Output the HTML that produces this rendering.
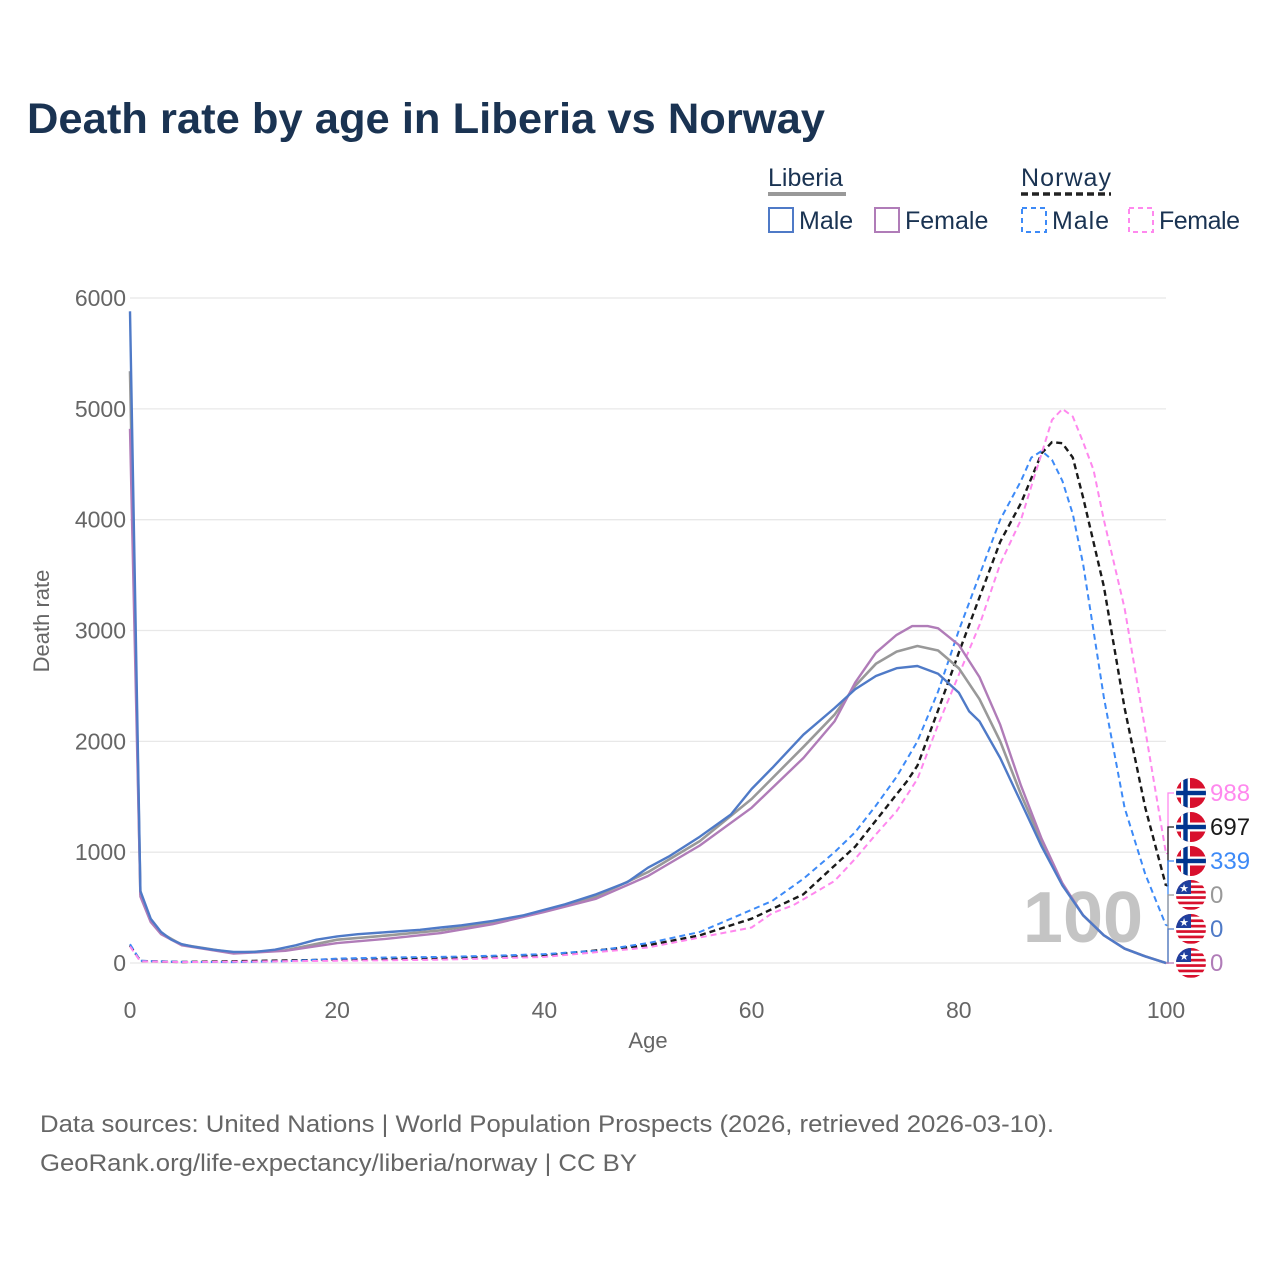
<!DOCTYPE html>
<html><head><meta charset="utf-8"><style>
body{margin:0;background:#fff;font-family:"Liberation Sans",sans-serif;}
svg text{font-family:"Liberation Sans",sans-serif;}
</style></head><body>
<svg id="chart" width="1280" height="1280" xmlns="http://www.w3.org/2000/svg">
<text x="27" y="133" font-size="43" font-weight="bold" fill="#1a3352" textLength="798" lengthAdjust="spacingAndGlyphs">Death rate by age in Liberia vs Norway</text>
<g font-size="25" fill="#1a3352">
<text x="768" y="186" fill="#1a3352">Liberia</text>
<line x1="768" y1="194" x2="846" y2="194" stroke="#999" stroke-width="4"/>
<text x="1021" y="186" fill="#1a3352" textLength="90">Norway</text>
<line x1="1021" y1="194" x2="1111" y2="194" stroke="#222" stroke-width="3.5" stroke-dasharray="7,4"/>
<g><rect x="769" y="208" width="24" height="24" fill="none" stroke="#4f7ac7" stroke-width="2"/><text x="799" y="229">Male</text></g>
<g><rect x="875" y="208" width="24" height="24" fill="none" stroke="#b07cb8" stroke-width="2"/><text x="905" y="229">Female</text></g>
<g><rect x="1022" y="208" width="24" height="24" fill="none" stroke="#3d8af7" stroke-width="2" stroke-dasharray="5,4"/><text x="1052" y="229" textLength="57">Male</text></g>
<g><rect x="1129" y="208" width="24" height="24" fill="none" stroke="#ff88ee" stroke-width="2" stroke-dasharray="5,4"/><text x="1159" y="229" textLength="81">Female</text></g>
</g>
<g id="grid"></g>
<text x="1083" y="942" font-size="72" font-weight="bold" fill="#c4c4c4" text-anchor="middle">100</text>
<g id="series"></g>
<g id="ends"></g>
<text x="648" y="1048" font-size="22" fill="#666" text-anchor="middle">Age</text>
<text x="0" y="0" font-size="22" fill="#666" text-anchor="middle" transform="translate(49,621) rotate(-90)">Death rate</text>
<text x="40" y="1132" font-size="24" fill="#666" textLength="1014" lengthAdjust="spacingAndGlyphs">Data sources: United Nations | World Population Prospects (2026, retrieved 2026-03-10).</text>
<text x="40" y="1171" font-size="24" fill="#666" textLength="597" lengthAdjust="spacingAndGlyphs">GeoRank.org/life-expectancy/liberia/norway | CC BY</text>
</svg>
<script>
const yTicks=[0,1000,2000,3000,4000,5000,6000];
const xTicks=[0,20,40,60,80,100];
const libMaleAges=[0,1,2,3,4,5,6,8,10,12,14,16,18,20,22,25,28,30,32,35,38,40,42,45,48,50,52,55,58,60,62,65,68,70,72,74,76,78,80,81,82,84,86,88,90,92,94,96,98,100];
const libMale=[5880,650,400,280,210,170,150,120,100,100,120,160,210,240,260,280,300,320,340,380,430,480,530,620,730,860,960,1140,1340,1570,1760,2060,2300,2470,2590,2660,2680,2610,2440,2270,2180,1850,1450,1050,700,430,250,130,60,0];
const libFemaleAges=[0,1,2,3,5,10,15,20,25,30,35,40,45,50,55,60,65,68,70,72,74,75.5,77,78,80,82,84,86,88,90,92,94,96,98,100];
const libFemale=[4820,600,370,260,160,85,110,180,220,270,350,460,580,785,1060,1400,1850,2180,2530,2800,2960,3040,3040,3020,2870,2580,2150,1600,1120,720,430,250,130,60,0];
const libTotalAges=[0,1,2,3,5,10,15,20,25,30,35,40,45,50,55,60,65,68,70,72,74,76,78,80,82,84,86,88,90,92,94,96,98,100];
const libTotal=[5340,620,385,270,165,92,115,210,250,295,365,470,600,820,1100,1480,1950,2240,2500,2700,2810,2860,2820,2660,2380,2000,1520,1090,710,430,250,130,60,0];
const norMaleAges=[0,1,5,10,15,20,25,30,35,40,45,50,55,58,60,62,65,68,70,72,74,76,78,80,82,84,86,87,88,89,90,91,92,93,94,96,98,100];
const norMale=[170,20,10,8,15,40,50,55,65,80,110,180,280,400,480,560,760,1000,1180,1420,1680,2000,2450,3000,3500,4000,4350,4560,4620,4540,4350,4050,3600,3000,2400,1400,800,339];
const norFemaleAges=[0,1,5,20,30,40,50,55,60,62,64,66,68,70,72,74,76,78,80,82,84,85,86,87,88,89,90,91,92,93,94,96,98,100];
const norFemale=[150,15,8,20,30,55,140,230,320,450,520,630,740,940,1160,1370,1660,2150,2600,3050,3600,3800,4000,4300,4600,4900,5000,4930,4700,4450,4000,3200,2100,988];
const norTotalAges=[0,1,5,20,30,40,50,55,60,65,70,75,76,78,80,82,84,86,88,89,90,91,92,94,96,98,100];
const norTotal=[160,18,9,30,42,68,160,250,400,620,1050,1640,1780,2280,2800,3300,3800,4150,4600,4700,4690,4560,4200,3400,2300,1400,697];
const endLabels=["988","697","339","0","0","0"];

const NS="http://www.w3.org/2000/svg";
const X=a=>130+a*10.36, Y=v=>963-v*0.11083;
function mk(tag,attrs,parent){const e=document.createElementNS(NS,tag);for(const k in attrs)e.setAttribute(k,attrs[k]);parent.appendChild(e);return e;}
const grid=document.getElementById('grid');
yTicks.forEach(t=>{
 const l=mk('line',{x1:130,x2:1166,y1:Y(t),y2:Y(t),stroke:'#e8e8e8','stroke-width':1.3},grid);
 
 
 const tx=mk('text',{x:126,y:Y(t)+8,'font-size':23,fill:'#666','text-anchor':'end'},grid);tx.textContent=t;
 
 
});
xTicks.forEach(t=>{
 const tx=mk('text',{x:X(t),y:1018,'font-size':23,fill:'#666','text-anchor':'middle'},grid);tx.textContent=t;
 
 
});
const ser=document.getElementById('series');
function line(ages,vals,color,dash,w,name){
 const d=ages.map((a,i)=>(i?'L':'M')+X(a).toFixed(1)+','+Y(vals[i]).toFixed(1)).join('');
 const p=mk('path',{d:d,fill:'none',stroke:color,'stroke-width':w,'stroke-linejoin':'round'},ser);
 if(dash)p.setAttribute('stroke-dasharray',dash);
 
 
}
line(norTotalAges,norTotal,'#1a1a1a','6,4',2.4,'line-norway-total');
line(norMaleAges,norMale,'#3d8af7','6,4',2,'line-norway-male');
line(norFemaleAges,norFemale,'#ff88ee','6,4',2,'line-norway-female');
line(libTotalAges,libTotal,'#999999',null,2.6,'line-liberia-total');
line(libFemaleAges,libFemale,'#b07cb8',null,2.4,'line-liberia-female');
line(libMaleAges,libMale,'#4f7ac7',null,2.4,'line-liberia-male');
const ends=document.getElementById('ends');
const endColors=['#ff88ee','#1a1a1a','#3d8af7','#999999','#4f7ac7','#b07cb8'];
const endVals=[norFemale[norFemale.length-1],norTotal[norTotal.length-1],norMale[norMale.length-1],libTotal[libTotal.length-1],libMale[libMale.length-1],libFemale[libFemale.length-1]];
const isNor=[1,1,1,0,0,0];
endLabels.forEach((lab,i)=>{
 const cy=793+i*34, c=endColors[i];
 const vy=Y(endVals[i]);
 const br=mk('path',{d:`M1166,${vy}L1168,${vy}L1168,${cy}L1174,${cy}`,fill:'none',stroke:c,'stroke-width':1.3},ends);
 
 
 const g=mk('g',{},ends);
 
 
 const cid='c'+i;
 const cp=mk('clipPath',{id:cid},g);mk('circle',{cx:1191,cy:cy,r:15},cp);
 const fg=mk('g',{'clip-path':`url(#${cid})`},g);
 if(isNor[i]){
  mk('rect',{x:1176,y:cy-15,width:30,height:30,fill:'#d8102d'},fg);
  mk('rect',{x:1176,y:cy-4.5,width:30,height:9,fill:'#fff'},fg);
  mk('rect',{x:1181,y:cy-15,width:9,height:30,fill:'#fff'},fg);
  mk('rect',{x:1176,y:cy-2.2,width:30,height:4.4,fill:'#00358f'},fg);
  mk('rect',{x:1183.3,y:cy-15,width:4.4,height:30,fill:'#00358f'},fg);
 }else{
  mk('rect',{x:1176,y:cy-15,width:30,height:30,fill:'#fff'},fg);
  for(let k=0;k<6;k++)mk('rect',{x:1176,y:cy-15+k*5.4,width:30,height:2.7,fill:'#d8102d'},fg);
  mk('rect',{x:1176,y:cy-15,width:15,height:14,fill:'#1f3f9e'},fg);
  const st=mk('text',{x:1184,y:cy-3,'font-size':11,fill:'#fff','text-anchor':'middle'},fg);st.textContent='★';
 }
 const t=mk('text',{x:1210,y:cy+8,'font-size':24,fill:c},ends);t.textContent=lab;
 
 
});
</script>
</body></html>
